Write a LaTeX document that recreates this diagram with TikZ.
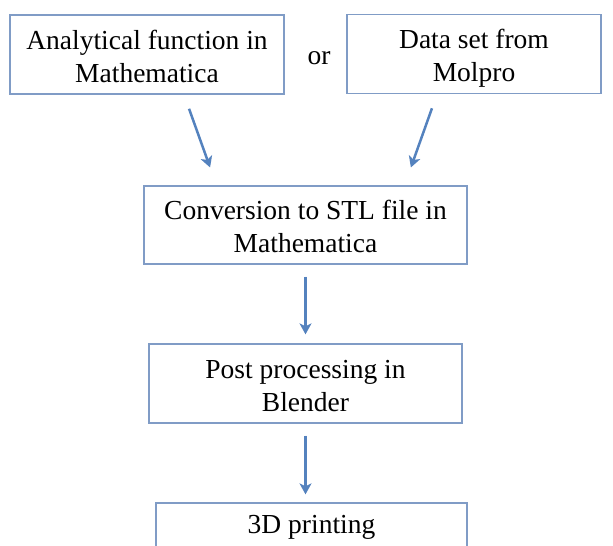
\documentclass[tikz,border=0pt]{standalone}
\usepackage{fontspec}
\setmainfont{Liberation Serif}
\usetikzlibrary{arrows.meta}
\newcommand{\topstrut}{\rule{0pt}{29pt}}
\newcommand{\botstrut}{\rule[-7pt]{0pt}{7pt}}
\begin{document}
\begin{tikzpicture}[x=1pt, y=-1pt,
  stepbox/.style={draw={rgb,255:red,128;green,156;blue,198}, line width=1.3pt, align=center,
    inner sep=0pt, font=\fontsize{27.5}{33}\selectfont},
  flow/.style={-{Stealth[length=11pt, width=12pt, inset=3pt]}, draw={rgb,255:red,84;green,130;blue,190},
    fill={rgb,255:red,84;green,130;blue,190}, line width=2.5pt}]
  \useasboundingbox (0,0) rectangle (613,546);
  \clip (0,0) rectangle (613,546);

  % Two possible sources
  \node[stepbox, minimum width=274pt, minimum height=79pt] (func) at (147,54.5) {\topstrut Analytical function in\\Mathematica\botstrut};
  \node[font=\fontsize{27.5}{33}\selectfont] (or) at (319,58) {or};
  \node[stepbox, minimum width=254pt, minimum height=79pt] (data) at (474,54) {\topstrut Data set from\\Molpro\botstrut};

  % Processing chain
  \node[stepbox, minimum width=323pt, minimum height=78pt] (stl) at (305.5,225) {\topstrut Conversion to STL file in\\Mathematica\botstrut};
  \node[stepbox, minimum width=313pt, minimum height=79pt] (blender) at (305.5,383.5) {\topstrut Post processing in\\Blender\botstrut};
  \node[stepbox, text height=20pt, text depth=39pt, minimum width=311pt, minimum height=79pt] (print) at (311.5,542.5) {3D printing};

  % Arrows between the steps
  \draw[flow, shorten <=15pt, shorten >=19pt] ([xshift=37pt]func.south) -- ([xshift=-89pt]stl.north);
  \draw[flow, shorten <=15pt, shorten >=19pt] ([xshift=-37pt]data.south) -- ([xshift=99pt]stl.north);
  \draw[flow, shorten <=12pt, shorten >=9pt] (stl.south) -- (stl.south |- blender.north);
  \draw[flow, shorten <=12pt, shorten >=8pt] (blender.south) -- (blender.south |- print.north);
\end{tikzpicture}
\end{document}
